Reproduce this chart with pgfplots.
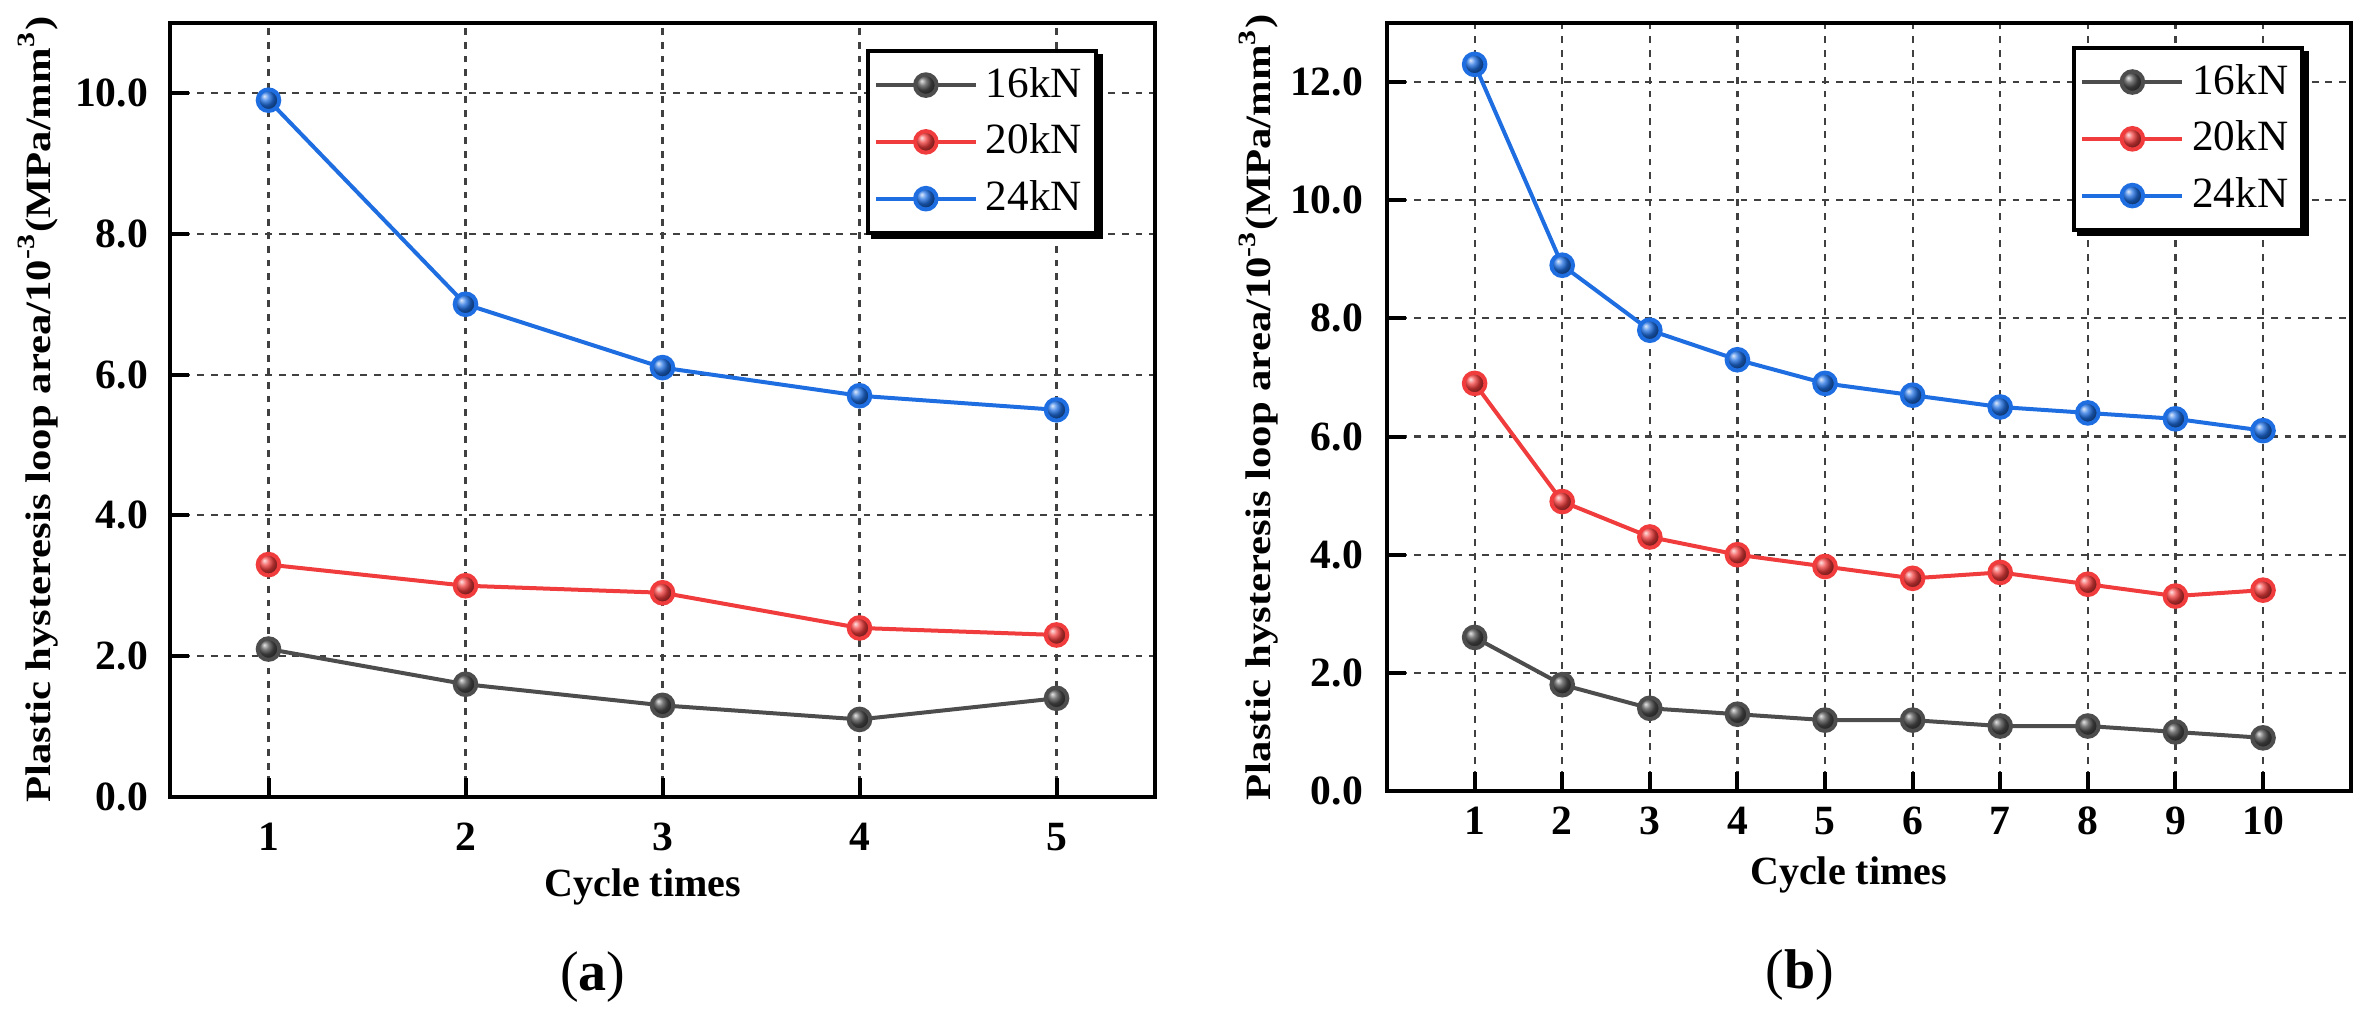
\documentclass[border=0pt]{standalone}
\usepackage{fontspec}
\setmainfont{Liberation Serif}
\newfontfamily\ylabfont[FakeStretch=1.2]{Liberation Serif}
\usepackage{pgfplots}
\pgfplotsset{compat=1.18}
\usetikzlibrary{shadows}
\makeatletter
\tikzset{no preactions/.code={\let\tikz@preactions\pgfutil@empty}}
\makeatother
\definecolor{cgray}{RGB}{77,77,77}
\definecolor{cred}{RGB}{240,60,60}
\definecolor{cblue}{RGB}{30,110,225}
\pgfplotsset{
  mystyle/.style={
    scale only axis,
    axis line style={line width=1pt},
    every tick/.style={line width=1pt, black},
    major tick length=4.75pt,
    tick align=inside,
    xtick pos=bottom, ytick pos=left,
    xmajorgrids, ymajorgrids,
    grid style={line width=0.55pt, color=black!75, dash pattern=on 1.7pt off 1.7pt},
    ticklabel style={font=\bfseries\fontsize{10.4}{12}\selectfont},
    yticklabel style={/pgf/number format/fixed, /pgf/number format/fixed zerofill, /pgf/number format/precision=1, /pgf/number format/assume math mode=true},
    xticklabel style={/pgf/number format/assume math mode=true},
    ylabel style={font=\ylabfont\bfseries\fontsize{8.9}{10}\selectfont},
    xlabel style={font=\bfseries\fontsize{10}{12}\selectfont},
    ylabel={Plastic hysteresis loop area/10\textsuperscript{-3}(MPa/mm\textsuperscript{3})},
    xlabel={Cycle times},
    legend cell align=left,
    legend image code/.code={\draw[no preactions,mark repeat=2,mark phase=2,#1] plot coordinates {(0pt,0pt) (12.5pt,0pt) (25pt,0pt)};},
    legend style={draw=black, line width=1pt, fill=white,
      font=\mdseries\fontsize{10.8}{12}\selectfont,
      inner xsep=1.5pt, inner ysep=2pt, row sep=1.2pt,
      copy shadow={shadow xshift=1.2pt, shadow yshift=-1.2pt, fill=black, draw=black}},
  },
  s16/.style={color=cgray, line width=1pt, mark=ball, mark size=2.7pt, mark options={ball color=cgray}},
  s20/.style={color=cred, line width=1pt, mark=ball, mark size=2.7pt, mark options={ball color=cred}},
  s24/.style={color=cblue, line width=1pt, mark=ball, mark size=2.7pt, mark options={ball color=cblue}},
}
\begin{document}
\begin{tikzpicture}
\path[use as bounding box] (0,0) rectangle (593.25pt,252.5pt);
% (a)
\begin{axis}[mystyle,
  at={(42.5pt,53.3pt)}, anchor=south west,
  width=246.25pt, height=193.5pt,
  xmin=0.5, xmax=5.5, ymin=0, ymax=11,
  xtick={1,2,3,4,5}, ytick={0,2,4,6,8,10},
  xticklabel style={yshift=-3pt},
  yticklabel style={xshift=-2pt},
  xlabel style={at={(axis description cs:0.48,0)}, anchor=center, yshift=-22.5pt},
  ylabel style={at={(axis description cs:-0.134,0.5)}, anchor=center},
  legend style={at={(0.942,0.966)}, anchor=north east},
]
\addplot[s16] coordinates {(1,2.1) (2,1.6) (3,1.3) (4,1.1) (5,1.4)};
\addplot[s20] coordinates {(1,3.3) (2,3.0) (3,2.9) (4,2.4) (5,2.3)};
\addplot[s24] coordinates {(1,9.9) (2,7.0) (3,6.1) (4,5.7) (5,5.5)};
\legend{16kN,20kN,24kN}
\end{axis}
% (b)
\begin{axis}[mystyle,
  at={(346.75pt,54.75pt)}, anchor=south west,
  width=240.9pt, height=192pt,
  xmin=0, xmax=11, ymin=0, ymax=13,
  xtick={1,2,3,4,5,6,7,8,9,10}, ytick={0,2,4,6,8,10,12},
  xticklabel style={yshift=-0.5pt},
  yticklabel style={xshift=-2.5pt},
  xlabel style={at={(axis description cs:0.479,0)}, anchor=center, yshift=-21pt},
  ylabel style={at={(axis description cs:-0.133,0.5)}, anchor=center},
  legend style={at={(0.952,0.970)}, anchor=north east},
]
\addplot[s16] coordinates {(1,2.6) (2,1.8) (3,1.4) (4,1.3) (5,1.2) (6,1.2) (7,1.1) (8,1.1) (9,1.0) (10,0.9)};
\addplot[s20] coordinates {(1,6.9) (2,4.9) (3,4.3) (4,4.0) (5,3.8) (6,3.6) (7,3.7) (8,3.5) (9,3.3) (10,3.4)};
\addplot[s24] coordinates {(1,12.3) (2,8.9) (3,7.8) (4,7.3) (5,6.9) (6,6.7) (7,6.5) (8,6.4) (9,6.3) (10,6.1)};
\legend{16kN,20kN,24kN}
\end{axis}
\node[font=\fontsize{14}{16}\selectfont] at (148.2pt,8.3pt) {(\textbf{a})};
\node[font=\fontsize{14}{16}\selectfont] at (449.9pt,8.75pt) {(\textbf{b})};
\end{tikzpicture}
\end{document}
